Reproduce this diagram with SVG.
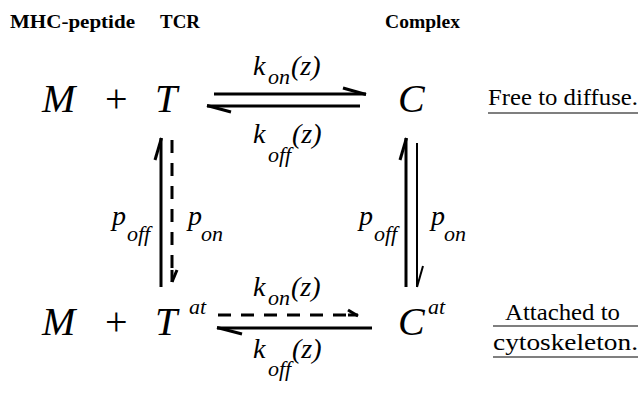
<svg xmlns="http://www.w3.org/2000/svg" width="643" height="393" viewBox="0 0 643 393">
<style>
text{font-family:"Liberation Serif","Times New Roman",Times,"DejaVu Serif",serif;fill:#000}
.hdr{font-weight:bold;font-size:18px}
.big{font-style:italic;font-size:40px}
.plus{font-size:40px}
.sup{font-style:italic;font-size:22px}
.lbl{font-style:italic;font-size:28px}
.sub{font-style:italic;font-size:22px}
.note{font-size:23px}
.ln{stroke:#000;stroke-width:3;fill:none;stroke-linecap:butt}
.thin{stroke:#000;stroke-width:2;fill:none}
.dash{stroke:#000;stroke-width:3;fill:none;stroke-dasharray:13 10}
.ul{stroke:#555;stroke-width:1.5}
</style>
<g id="headers">
<text class="hdr" x="10" y="28" textLength="125" lengthAdjust="spacingAndGlyphs">MHC-peptide</text>
<text class="hdr" x="160" y="28" textLength="40" lengthAdjust="spacingAndGlyphs">TCR</text>
<text class="hdr" x="385" y="28" textLength="75" lengthAdjust="spacingAndGlyphs">Complex</text>
</g>
<g id="node-M-top"><text class="big" x="42" y="112">M</text></g>
<g id="plus-top"><text class="plus" x="105" y="112">+</text></g>
<g id="node-T"><text class="big" x="155" y="112">T</text></g>
<g id="node-C"><text class="big" x="398" y="112">C</text></g>
<g id="node-M-bottom"><text class="big" x="42" y="335">M</text></g>
<g id="plus-bottom"><text class="plus" x="105" y="335">+</text></g>
<g id="node-Tat"><text class="big" x="155" y="335">T</text><text class="sup" x="189" y="314">at</text></g>
<g id="node-Cat"><text class="big" x="398" y="335">C</text><text class="sup" x="428" y="314">at</text></g>
<g id="connectors">
<line class="ln" x1="214" y1="94" x2="366" y2="94"/>
<line class="ln" x1="366" y1="94.5" x2="343" y2="88"/>
<line class="ln" x1="360" y1="106" x2="207" y2="106"/>
<line class="ln" x1="207" y1="105.5" x2="231" y2="112"/>
<line class="ln" x1="161" y1="287" x2="161" y2="138"/>
<line class="ln" x1="161.5" y1="138" x2="155" y2="160"/>
<line class="dash" x1="172" y1="140" x2="172" y2="268"/>
<line class="ln" x1="172" y1="282" x2="172" y2="270"/>
<line class="ln" x1="172" y1="282" x2="177" y2="270"/>
<line class="ln" x1="406" y1="287" x2="406" y2="138"/>
<line class="ln" x1="406.5" y1="138" x2="400" y2="160"/>
<line class="thin" x1="417" y1="143" x2="417" y2="287"/>
<line class="thin" x1="417" y1="287" x2="423" y2="266"/>
<line class="dash" x1="218" y1="315" x2="350" y2="315"/>
<line class="ln" x1="358" y1="316" x2="348" y2="310"/>
<line class="ln" x1="348" y1="315" x2="358" y2="315"/>
<line class="ln" x1="372" y1="328" x2="217" y2="328"/>
<line class="ln" x1="217" y1="327.5" x2="242" y2="334"/>
</g>
<g id="rate-labels">
<text class="lbl" x="253" y="75">k</text><text class="sub" x="268" y="84">on</text><text class="lbl" x="291" y="75">(z)</text>
<text class="lbl" x="253" y="143">k</text><text class="sub" x="268" y="162">off</text><text class="lbl" x="292" y="143">(z)</text>
<text class="lbl" x="253" y="296">k</text><text class="sub" x="268" y="305">on</text><text class="lbl" x="291" y="296">(z)</text>
<text class="lbl" x="253" y="358">k</text><text class="sub" x="268" y="376">off</text><text class="lbl" x="292" y="358">(z)</text>
<text class="lbl" x="112" y="225">p</text><text class="sub" x="127" y="241">off</text>
<text class="lbl" x="188" y="225">p</text><text class="sub" x="201" y="241">on</text>
<text class="lbl" x="359" y="225">p</text><text class="sub" x="374" y="241">off</text>
<text class="lbl" x="431" y="225">p</text><text class="sub" x="444" y="241">on</text>
</g>
<g id="note-free">
<text class="note" x="488" y="105" textLength="150" lengthAdjust="spacingAndGlyphs">Free to diffuse.</text>
<line class="ul" x1="488" y1="113" x2="638" y2="113"/>
</g>
<g id="note-attached">
<text class="note" x="505" y="320" textLength="115" lengthAdjust="spacingAndGlyphs">Attached to</text>
<line class="ul" x1="493" y1="326" x2="638" y2="326"/>
<text class="note" x="493" y="350" textLength="145" lengthAdjust="spacingAndGlyphs">cytoskeleton.</text>
<line class="ul" x1="493" y1="357" x2="638" y2="357"/>
</g>
</svg>
